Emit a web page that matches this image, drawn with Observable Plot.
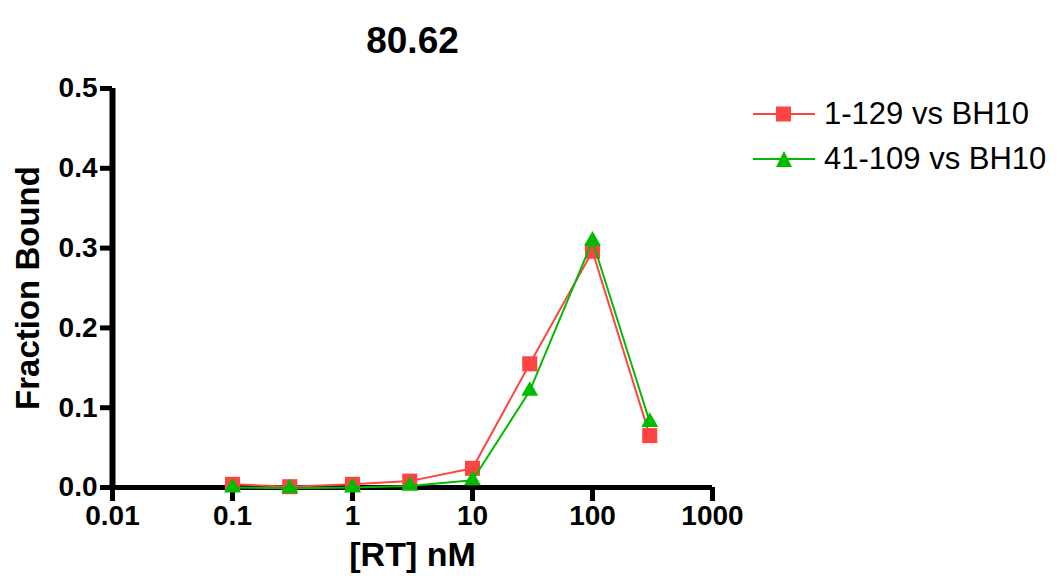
<!DOCTYPE html>
<html>
<head>
<meta charset="utf-8">
<script src="https://cdn.jsdelivr.net/npm/d3@7"></script>
<script src="https://cdn.jsdelivr.net/npm/@observablehq/plot@0.6"></script>
<style>
  html, body { margin: 0; padding: 0; background: #fff; }
  #wrap { position: relative; width: 1060px; height: 585px; font-family: "Liberation Sans", Arial, sans-serif; overflow: hidden; }
  #wrap svg [aria-label="rule"] line, #wrap svg [aria-label$="axis tick"] path { stroke-width: 5px; }
  #wrap svg g.yaxisline line { stroke-width: 6px; }
  #legend { position: absolute; left: 753px; top: 91px; white-space: nowrap; }
  .item { display: flex; align-items: center; height: 45px; font-size: 31px; color: #000; white-space: nowrap; }
  .item svg { margin-right: 9px; flex: none; }
</style>
</head>
<body>
<div id="wrap"></div>
<script>
const title = "80.62";
const xLabel = "[RT] nM";
const yLabel = "Fraction Bound";
const xTicks = [0.01, 0.1, 1, 10, 100, 1000];
const xTickLabels = ["0.01", "0.1", "1", "10", "100", "1000"];
const yTicks = [0, 0.1, 0.2, 0.3, 0.4, 0.5];
const seriesNames = ["1-129 vs BH10", "41-109 vs BH10"];
const seriesColors = ["#ff4444", "#00bb00"];
const seriesSymbols = ["square", "triangle"];
const concentrations = [0.1, 0.3, 1, 3, 10, 30, 100, 300];
const bound129 = [0.004, 0.001, 0.004, 0.008, 0.024, 0.155, 0.296, 0.065];
const bound109 = [0.000, -0.001, 0.000, 0.002, 0.009, 0.121, 0.309, 0.082];

const d129 = concentrations.map((c, i) => ({series: seriesNames[0], x: c, y: bound129[i]}));
const d109 = concentrations.map((c, i) => ({series: seriesNames[1], x: c, y: bound109[i]}));

const font = "Liberation Sans, Arial, sans-serif";

const chart = Plot.plot({
  width: 1060,
  height: 585,
  marginLeft: 112,
  marginRight: 348,
  marginTop: 88,
  marginBottom: 98,
  style: {fontFamily: font, background: "#fff", overflow: "visible"},
  x: {type: "log", domain: [0.01, 1000]},
  y: {domain: [0, 0.5]},
  marks: [
    Plot.axisX({ticks: xTicks, tickFormat: d => xTickLabels[xTicks.indexOf(d)], tickSize: 14, tickPadding: 4, strokeWidth: 5, stroke: "#000", fontSize: 28, fontWeight: "bold", label: null, fill: "#000"}),
    Plot.axisY({ticks: yTicks, tickFormat: d3.format(".1f"), tickSize: 12, tickPadding: 3, strokeWidth: 5, stroke: "#000", fontSize: 28, fontWeight: "bold", label: null, fill: "#000"}),
    Plot.ruleX([0.01], {y1: 0, y2: 0.5, strokeWidth: 6, stroke: "#000", className: "yaxisline"}),
    Plot.ruleY([0], {x1: 0.01, x2: 1000, strokeWidth: 5, stroke: "#000"}),
    Plot.line(d129, {x: "x", y: "y", stroke: seriesColors[0], strokeWidth: 2}),
    Plot.dot(d129, {x: "x", y: "y", fill: seriesColors[0], symbol: seriesSymbols[0], r: 8.5, stroke: "none"}),
    Plot.line(d109, {x: "x", y: "y", stroke: seriesColors[1], strokeWidth: 2}),
    Plot.dot(d109, {x: "x", y: "y", fill: seriesColors[1], symbol: seriesSymbols[1], r: 6.3, stroke: "none"}),
    Plot.text([title], {frameAnchor: "top", dy: -62, fontSize: 37, fontWeight: "bold", fill: "#000"}),
    Plot.text([xLabel], {frameAnchor: "bottom", dy: 78, fontSize: 34, fontWeight: "bold", fill: "#000"}),
    Plot.text([yLabel], {frameAnchor: "left", textAnchor: "middle", dx: -84, rotate: -90, fontSize: 33, fontWeight: "bold", fill: "#000"})
  ]
});
document.getElementById("wrap").appendChild(chart);

const legend = document.createElement("div");
legend.id = "legend";
seriesNames.forEach((name, i) => {
  const item = document.createElement("div");
  item.className = "item";
  const sym = seriesSymbols[i] === "square"
    ? `<rect x="23" y="7.5" width="15" height="15" fill="${seriesColors[i]}"/>`
    : `<path d="M31,7 L39,23 L23,23 Z" fill="${seriesColors[i]}"/>`;
  item.innerHTML = `<svg width="62" height="30"><line x1="0" x2="62" y1="15" y2="15" stroke="${seriesColors[i]}" stroke-width="2"/>${sym}</svg><span>${name}</span>`;
  legend.appendChild(item);
});
document.getElementById("wrap").appendChild(legend);
</script>
</body>
</html>
